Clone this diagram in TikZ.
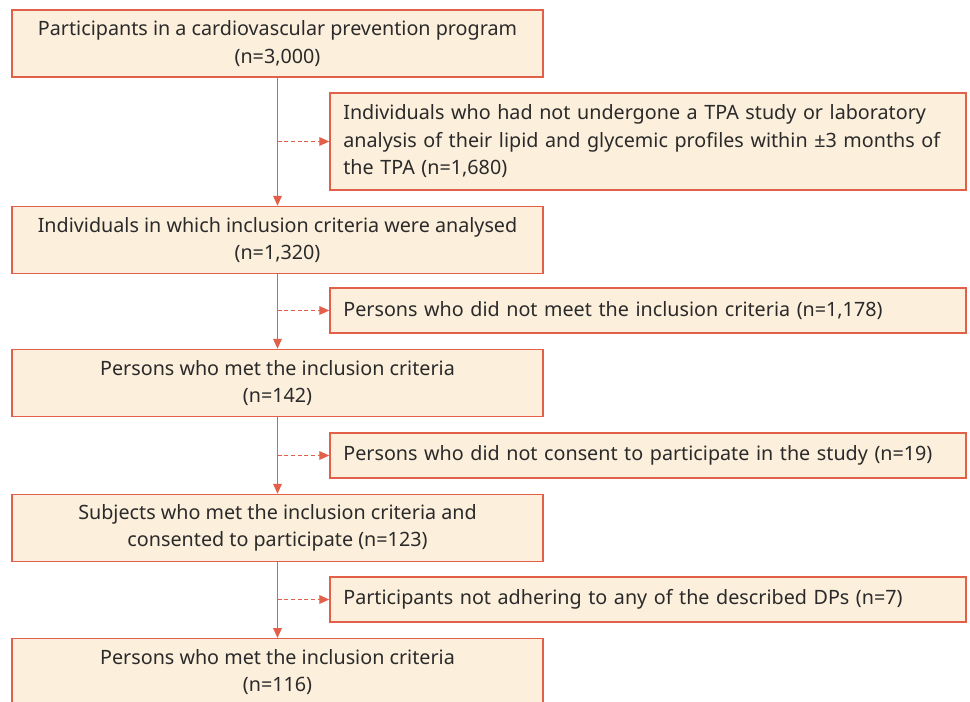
\documentclass[tikz,border=0pt]{standalone}
\usepackage{fontspec}
\setmainfont{Noto Sans}
\usepackage{tikz}
\usetikzlibrary{arrows.meta,positioning}
\definecolor{flowred}{HTML}{E2604A}
\definecolor{boxfill}{HTML}{FCEFDC}
\definecolor{flowtext}{HTML}{2A2A2A}

\begin{document}
\begin{tikzpicture}[
  x=0.75pt,y=-0.75pt,
  font=\fontsize{14.8}{20.6}\selectfont,
  mainflow/.style={-{Triangle[length=7.5pt,width=6.5pt]},line width=1pt,
    draw=flowred},
  sideflow/.style={-{Triangle[length=7.5pt,width=6.5pt]},line width=1pt,
    draw=flowred,dash pattern=on 3pt off 2pt},
  stagebox/.style={draw=flowred,fill=boxfill,line width=1.1pt,
    text=flowtext,align=center,minimum width=398.25pt,
    minimum height=50.25pt,inner sep=0pt},
  exclbox/.style={draw=flowred,fill=boxfill,line width=1.1pt,
    text=flowtext,align=left,text width=457pt,inner xsep=10pt,
    inner ysep=0pt}
]
\clip (0,0) rectangle (970,702);
\fill[white] (0,0) rectangle (970,702);

% Main chain of the selection, top to bottom.
\node[stagebox] (stage-1) at (277.5,43.5)
  {Participants in a cardiovascular prevention program\\(n=3,000)};
\node[stagebox] (stage-2) at (277.5,240)
  {Individuals in which inclusion criteria were analysed\\(n=1,320)};
\node[stagebox] (stage-3) at (277.5,383)
  {Persons who met the inclusion criteria\\(n=142)};
\node[stagebox] (stage-4) at (277.5,528)
  {Subjects who met the inclusion criteria and\\consented to participate (n=123)};
\node[stagebox,anchor=north] (stage-5) at (277.5,638)
  {Persons who met the inclusion criteria\\(n=116)};

% Exclusions branching off to the right.
\node[exclbox,minimum height=72.75pt] (excl-1) at (648,141.5)
  {\mbox{Individuals who had not undergone a TPA study or laboratory}\\
   \mbox{analysis of their lipid and glycemic profiles within \textpm3 months of}\\
   the TPA (n=1,680)};
\node[exclbox,minimum height=33.75pt] (excl-2) at (648,310.5)
  {Persons who did not meet the inclusion criteria (n=1,178)};
\node[exclbox,minimum height=33.75pt] (excl-3) at (648,455.5)
  {Persons who did not consent to participate in the study (n=19)};
\node[exclbox,minimum height=33.75pt] (excl-4) at (648,599.5)
  {Participants not adhering to any of the described DPs (n=7)};

\foreach \i/\j in {1/2,2/3,3/4,4/5} {
  \draw[mainflow] (stage-\i.south) -- (stage-\j.north);
  \coordinate (split-\i) at (stage-\i.south |- excl-\i.west);
  \draw[sideflow] (split-\i) -- (excl-\i.west);
}
\end{tikzpicture}
\end{document}
